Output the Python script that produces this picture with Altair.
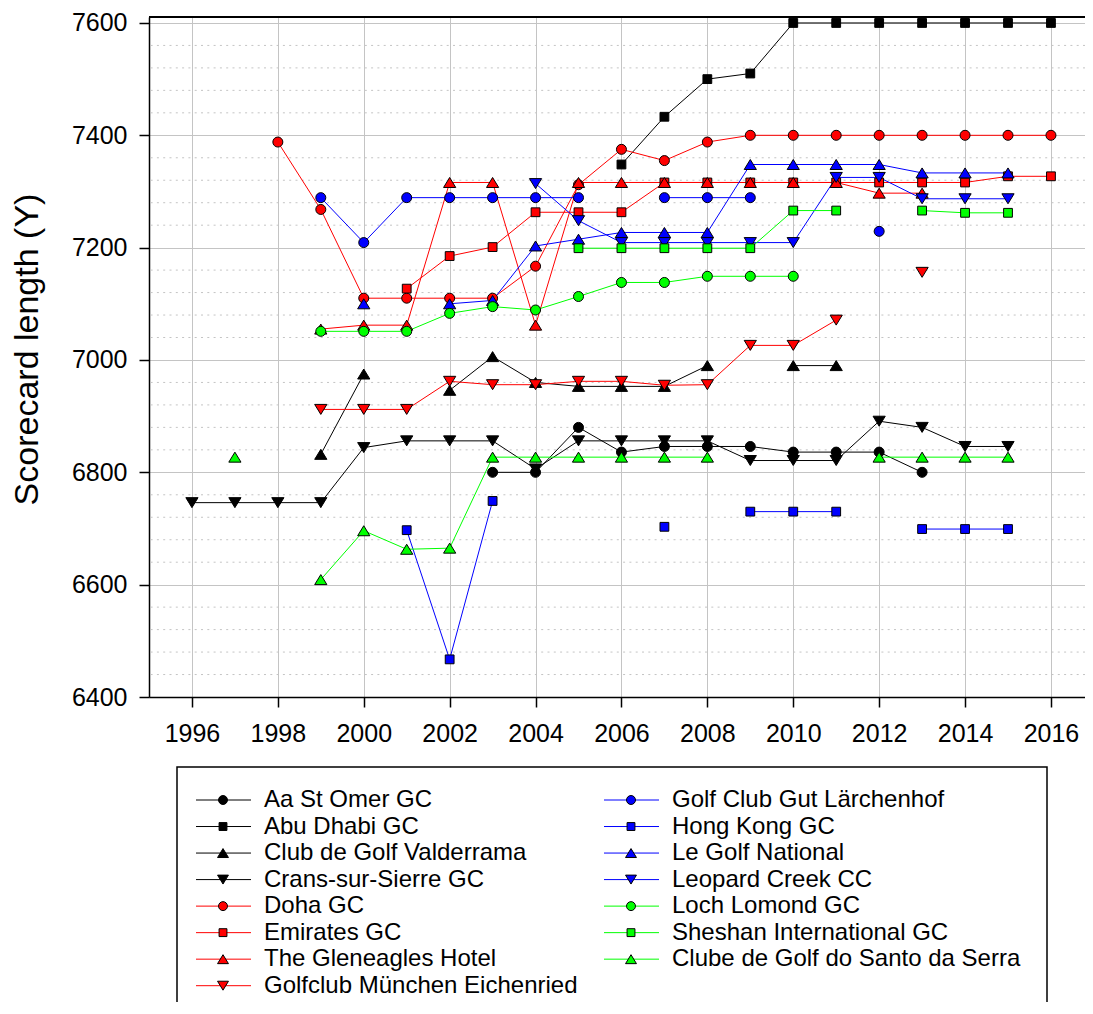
import altair as alt
import pandas as pd

# ---------------- data ----------------
SERIES = [
    "Aa St Omer GC", "Abu Dhabi GC", "Club de Golf Valderrama", "Crans-sur-Sierre GC",
    " Doha GC", "Emirates GC", "The Gleneagles Hotel", "Golfclub München Eichenried",
    "Golf Club Gut Lärchenhof", "Hong Kong GC", "Le Golf National", "Leopard Creek CC",
    "Loch Lomond GC", "Sheshan International GC", "Clube de Golf do Santo da Serra",
]
COLORS = ["#000000"] * 4 + ["#ff0000"] * 4 + ["#0000ff"] * 4 + ["#00ff00"] * 3

# marker outlines (unit box -1..1)
CIRCLE = "circle"
SQUARE = "M-0.88,-0.88H0.88V0.88H-0.88Z"
TRI_UP = "M0,-1L1.22,1L-1.22,1Z"
TRI_DOWN = "M0,1L1.22,-1L-1.22,-1Z"
SHAPES = [CIRCLE, SQUARE, TRI_UP, TRI_DOWN] * 3 + [CIRCLE, SQUARE, TRI_UP]

aa_years = [2003, 2004, 2005, 2006, 2007, 2008, 2009, 2010, 2011, 2012, 2013]
aa_len = [6800, 6800, 6880, 6836, 6846, 6846, 6846, 6836, 6836, 6836, 6800]

abu_years = [2006, 2007, 2008, 2009, 2010, 2011, 2012, 2013, 2014, 2015, 2016]
abu_len = [7348, 7433, 7500, 7510, 7600, 7600, 7600, 7600, 7600, 7600, 7600]

val_years = [1999, 2000, 2002, 2003, 2004, 2005, 2006, 2007, 2008, 2010, 2011]
val_len = [6832, 6975, 6946, 7006, 6960, 6953, 6953, 6953, 6990, 6990, 6990]

crans_years = [1996, 1997, 1998, 1999, 2000, 2001, 2002, 2003, 2004, 2005, 2006, 2007,
               2008, 2009, 2010, 2011, 2012, 2013, 2014, 2015]
crans_len = [6746, 6746, 6746, 6746, 6844, 6856, 6856, 6856, 6806, 6856, 6856, 6856,
             6856, 6821, 6821, 6821, 6891, 6880, 6846, 6846]

doha_years = [1998, 1999, 2000, 2001, 2002, 2003, 2004, 2005, 2006, 2007, 2008, 2009,
              2010, 2011, 2012, 2013, 2014, 2015, 2016]
doha_len = [7388, 7268, 7110, 7110, 7110, 7110, 7167, 7312, 7375, 7355, 7388, 7400,
            7400, 7400, 7400, 7400, 7400, 7400, 7400]

emi_years = [2001, 2002, 2003, 2004, 2005, 2006, 2007, 2008, 2009, 2010, 2011, 2012,
             2013, 2014, 2015, 2016]
emi_len = [7127, 7185, 7201, 7263, 7263, 7263, 7316, 7316, 7316, 7316, 7316, 7316,
           7316, 7316, 7327, 7327]

glen_years = [1999, 2000, 2001, 2002, 2003, 2004, 2005, 2006, 2007, 2008, 2009, 2010,
              2011, 2012, 2013]
glen_len = [7055, 7062, 7062, 7316, 7316, 7062, 7316, 7316, 7316, 7316, 7316, 7316,
            7316, 7297, 7297]

muc_years = [1999, 2000, 2001, 2002, 2003, 2004, 2005, 2006, 2007, 2008, 2009, 2010,
             2011, 2013]
muc_len = [6912, 6912, 6912, 6962, 6956, 6956, 6962, 6962, 6955, 6956, 7026, 7026,
           7071, 7156]

lar_years = [1999, 2000, 2001, 2002, 2003, 2004, 2005, 2007, 2008, 2009, 2012]
lar_len = [7289, 7209, 7289, 7289, 7289, 7289, 7289, 7289, 7289, 7289, 7229]

hk_years = [2001, 2002, 2003, 2007, 2009, 2010, 2011, 2013, 2014, 2015]
hk_len = [6697, 6467, 6749, 6703, 6730, 6730, 6730, 6699, 6699, 6699]

lgn_years = [2000, 2002, 2003, 2004, 2005, 2006, 2007, 2008, 2009, 2010, 2011, 2012,
             2013, 2014, 2015]
lgn_len = [7100, 7100, 7106, 7203, 7215, 7227, 7227, 7227, 7348, 7348, 7348, 7348,
           7333, 7333, 7333]

leo_years = [2004, 2005, 2006, 2007, 2008, 2009, 2010, 2011, 2012, 2013, 2014, 2015]
leo_len = [7314, 7248, 7209, 7209, 7209, 7209, 7209, 7325, 7325, 7287, 7287, 7287]

loch_years = [1999, 2000, 2001, 2002, 2003, 2004, 2005, 2006, 2007, 2008, 2009, 2010]
loch_len = [7051, 7051, 7051, 7083, 7095, 7089, 7113, 7138, 7138, 7149, 7149, 7149]

she_years = [2005, 2006, 2007, 2008, 2009, 2010, 2011, 2013, 2014, 2015]
she_len = [7199, 7199, 7199, 7199, 7199, 7266, 7266, 7266, 7262, 7262]

santo_years = [1997, 1999, 2000, 2001, 2002, 2003, 2004, 2005, 2006, 2007, 2008,
               2012, 2013, 2014, 2015]
santo_len = [6827, 6609, 6696, 6663, 6665, 6827, 6827, 6827, 6827, 6827, 6827,
             6827, 6827, 6827, 6827]

YEARS = [aa_years, abu_years, val_years, crans_years, doha_years, emi_years, glen_years,
         muc_years, lar_years, hk_years, lgn_years, leo_years, loch_years, she_years,
         santo_years]
LENGTHS = [aa_len, abu_len, val_len, crans_len, doha_len, emi_len, glen_len, muc_len,
           lar_len, hk_len, lgn_len, leo_len, loch_len, she_len, santo_len]

Y_MAJOR = list(range(6400, 7601, 200))
Y_MINOR = [v for v in range(6440, 7600, 40) if v % 200 != 0]
X_TICKS = list(range(1996, 2017, 2))

# ---------------- tables ----------------
rows = []
for si, (name, yrs, vals) in enumerate(zip(SERIES, YEARS, LENGTHS)):
    run = 0
    prev = None
    for yr, v in zip(yrs, vals):
        if prev is not None and yr - prev > 1:
            run += 1
        rows.append({"series": name, "year": yr, "length": v, "run": f"{si}-{run}", "si": si})
        prev = yr
df = pd.DataFrame(rows)

leg = pd.DataFrame({
    "series": SERIES,
    "label": [s.replace(" ", "\u00a0", 1) if s.startswith(" ") else s for s in SERIES],
    "col": [0] * 8 + [1] * 7,
    "row": list(range(8)) + list(range(7)),
})
minor_df = pd.DataFrame({"length": Y_MINOR})
one = pd.DataFrame({"k": [1]})

FONT = "Liberation Sans"
W, H = 936, 680

color_scale = alt.Scale(domain=SERIES, range=COLORS)
shape_scale = alt.Scale(domain=SERIES, range=SHAPES)

x_enc = alt.X(
    "year:Q",
    scale=alt.Scale(domain=[1995, 1995 + W / 42.95], nice=False, zero=False),
    axis=alt.Axis(
        values=X_TICKS, format="d", title=None, labelFontSize=25, labelFont=FONT,
        labelColor="black", labelPadding=14, labelFlush=False, tickSize=10,
        tickWidth=1.5, tickColor="black", domainColor="black", domainWidth=1.5,
        grid=True, gridColor="#c4c4c4", gridWidth=1,
    ),
)
y_enc = alt.Y(
    "length:Q",
    scale=alt.Scale(domain=[6400, 6400 + H / 0.5617], nice=False, zero=False),
    axis=alt.Axis(
        values=Y_MAJOR, format="d", title="Scorecard length (Y)", titleFontSize=34,
        titleFont=FONT, titleFontWeight="normal", titleColor="black", titleAngle=270,
        titleX=-112, titleY=332, titleAlign="center", titleBaseline="alphabetic",
        labelFontSize=25, labelFont=FONT, labelColor="black", labelPadding=12,
        labelFlush=False, tickSize=10, tickWidth=1.5, tickColor="black",
        domainColor="black", domainWidth=1.5, grid=True, gridColor="#c4c4c4", gridWidth=1,
    ),
)

minor = alt.Chart(minor_df).mark_rule(color="#c4c4c4", strokeWidth=1, strokeDash=[2, 4.3]).encode(y=y_enc)

lines = alt.Chart(df).mark_line(strokeWidth=1).encode(
    x=x_enc, y=y_enc,
    color=alt.Color("series:N", scale=color_scale, legend=None),
    detail="run:N",
    order=alt.Order("year:Q"),
)

points = alt.Chart(df).mark_point(filled=True, size=100, stroke="black", strokeWidth=1, opacity=1).encode(
    x=x_enc, y=y_enc,
    color=alt.Color("series:N", scale=color_scale, legend=None),
    shape=alt.Shape("series:N", scale=shape_scale, legend=None),
)

top = alt.Chart(one).mark_rule(color="black", strokeWidth=2).encode(y=alt.value(0))

main = alt.layer(minor, lines, points, top)

# ---------------- legend ----------------
lx = alt.X("col:Q", scale=alt.Scale(domain=[0, 1], range=[74, 482]), axis=None)
lx2 = alt.X2("col")
ly = alt.Y("row:Q", scale=alt.Scale(domain=[0, 7], range=[783, 968.7]), axis=None)

leg_lines = alt.Chart(leg).mark_rule(strokeWidth=1, xOffset=-27, x2Offset=28).encode(
    x=lx, x2=lx2, y=ly,
    color=alt.Color("series:N", scale=color_scale, legend=None),
)
leg_pts = alt.Chart(leg).mark_point(filled=True, size=80, stroke="black", strokeWidth=1, opacity=1).encode(
    x=lx, y=ly,
    color=alt.Color("series:N", scale=color_scale, legend=None),
    shape=alt.Shape("series:N", scale=shape_scale, legend=None),
)
leg_text = alt.Chart(leg).mark_text(align="left", baseline="middle", dx=41, fontSize=24, font=FONT, color="black").encode(
    x=lx, y=ly, text="label:N",
)
box = alt.Chart(one).mark_rect(filled=False, color="black", strokeWidth=1.5).encode(
    x=alt.value(28), x2=alt.value(898), y=alt.value(750), y2=alt.value(1010),
)

legend = alt.layer(leg_lines, leg_pts, leg_text, box)

chart = alt.layer(main, legend).resolve_scale(x="independent", y="independent").properties(
    width=W, height=H,
    padding={"left": 141, "top": 9, "right": 0, "bottom": 305},
    autosize=alt.AutoSizeParams(type="none"),
    background="white",
).configure_view(stroke=None)

chart.save("out.html", embed_options={"renderer": "svg", "actions": False})
